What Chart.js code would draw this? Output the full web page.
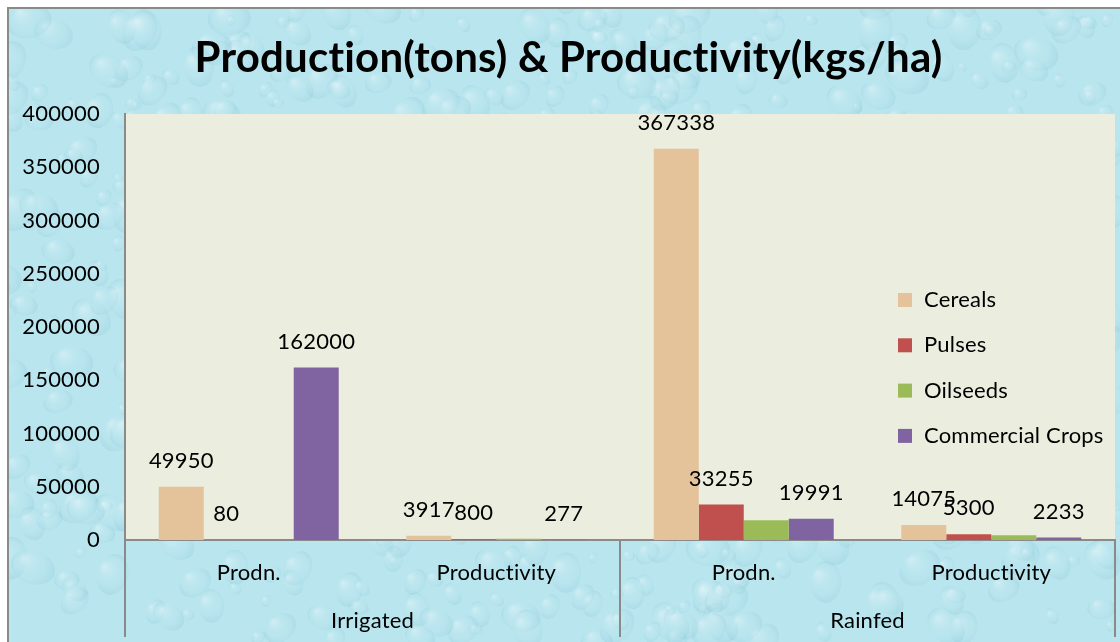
<!DOCTYPE html>
<html>
<head>
<meta charset="utf-8">
<script src="https://cdn.jsdelivr.net/npm/chart.js@4.4.1/dist/chart.umd.min.js"></script>
<style>
  html, body { margin: 0; padding: 0; background: #fff; }
  #wrap { width: 1120px; height: 642px; }
</style>
</head>
<body>
<div id="wrap"><canvas id="chart" width="1120" height="642"></canvas></div>
<script>
// chart data
const groups = ['Irrigated', 'Rainfed'];
const categories = ['Prodn.', 'Productivity', 'Prodn.', 'Productivity'];
const cereals = [49950, 3917, 367338, 14075];
const pulses = [80, 800, 33255, 5300];
const oilseeds = [null, 1200, 18500, 4400];
const commercialCrops = [162000, 277, 19991, 2233];
const yTicks = [0, 50000, 100000, 150000, 200000, 250000, 300000, 350000, 400000];

const FONT = 'Lato';
const GRAY = '#8a8a8a';

// water-drop backdrop, border and plot area fill
const backdrop = {
  id: 'backdrop',
  beforeDraw(chart) {
    const { ctx, width, height, chartArea } = chart;
    ctx.save();
    ctx.fillStyle = '#fff';
    ctx.fillRect(0, 0, width, height);
    ctx.fillStyle = '#b9e5ee';
    ctx.fillRect(8, 8, width - 8, height - 8);
    let seed = 11;
    const rnd = () => (seed = (seed * 16807) % 2147483647) / 2147483647;
    ctx.beginPath();
    ctx.rect(8, 8, width - 8, height - 8);
    ctx.clip();
    for (let i = 0; i < 700; i++) {
      const x = rnd() * width, y = rnd() * height, r = 5 + rnd() * 18;
      const g = ctx.createRadialGradient(x - r * 0.4, y - r * 0.4, r * 0.05, x, y, r);
      g.addColorStop(0, 'rgba(255,255,255,0.30)');
      g.addColorStop(0.6, 'rgba(180,226,236,0.10)');
      g.addColorStop(1, 'rgba(110,180,198,0.18)');
      ctx.fillStyle = g;
      ctx.beginPath();
      ctx.ellipse(x, y, r, r * 0.75, rnd() * Math.PI, 0, Math.PI * 2);
      ctx.fill();
    }
    ctx.restore();

    ctx.save();
    ctx.strokeStyle = GRAY;
    ctx.lineWidth = 2;
    ctx.strokeRect(8, 8, width + 10, height + 10);
    ctx.fillStyle = '#ebeedf';
    ctx.fillRect(chartArea.left, chartArea.top, chartArea.right - chartArea.left, chartArea.bottom - chartArea.top);
    ctx.restore();
    // tiny spacing keeps the "ti" ligature from forming
    ctx.letterSpacing = '0.2px';
  }
};

// value labels above bars (oilseeds had none)
const valueLabels = {
  id: 'valueLabels',
  afterDatasetsDraw(chart) {
    const { ctx } = chart;
    ctx.save();
    ctx.font = `22px ${FONT}`;
    ctx.fillStyle = '#000';
    ctx.textAlign = 'center';
    ctx.textBaseline = 'middle';
    chart.data.datasets.forEach((ds, i) => {
      if (!ds.showValues) return;
      chart.getDatasetMeta(i).data.forEach((bar, j) => {
        const v = ds.data[j];
        if (v === null || v === undefined) return;
        ctx.fillText(String(v), bar.x, bar.y - 26);
      });
    });
    ctx.restore();
  }
};

// group labels, category separators and legend
const extras = {
  id: 'extras',
  afterDraw(chart) {
    const { ctx, chartArea, scales } = chart;
    const x = scales.x;
    const bottom = 637;
    ctx.save();
    ctx.strokeStyle = GRAY;
    ctx.lineWidth = 2;
    const mid = (x.getPixelForValue(1) + x.getPixelForValue(2)) / 2;
    [chartArea.left, mid, chartArea.right].forEach(px => {
      ctx.beginPath();
      ctx.moveTo(px, chartArea.bottom);
      ctx.lineTo(px, bottom);
      ctx.stroke();
    });
    ctx.font = `22px ${FONT}`;
    ctx.fillStyle = '#000';
    ctx.textAlign = 'center';
    ctx.textBaseline = 'middle';
    ctx.fillText(groups[0], (chartArea.left + mid) / 2, 621);
    ctx.fillText(groups[1], (mid + chartArea.right) / 2, 621);

    // legend
    const lx = chartArea.right - 217;
    let ly = chartArea.top + 186;
    ctx.textAlign = 'left';
    chart.data.datasets.forEach(ds => {
      ctx.fillStyle = ds.backgroundColor;
      ctx.fillRect(lx, ly - 7, 14, 14);
      ctx.fillStyle = '#000';
      ctx.fillText(ds.label, lx + 26, ly);
      ly += 45.3;
    });
    ctx.restore();
  }
};

new Chart(document.getElementById('chart'), {
  type: 'bar',
  data: {
    labels: categories,
    datasets: [
      { label: 'Cereals', data: cereals, backgroundColor: '#e4c39b', showValues: true },
      { label: 'Pulses', data: pulses, backgroundColor: '#c0504d', showValues: true },
      { label: 'Oilseeds', data: oilseeds, backgroundColor: '#9bbb59', showValues: false },
      { label: 'Commercial Crops', data: commercialCrops, backgroundColor: '#8064a2', showValues: true }
    ]
  },
  options: {
    responsive: false,
    animation: false,
    layout: { padding: { left: 22, right: 5, top: 0, bottom: 0 } },
    datasets: { bar: { categoryPercentage: 0.727, barPercentage: 1 } },
    plugins: {
      legend: { display: false },
      tooltip: { enabled: false },
      title: {
        display: true,
        text: 'Production(tons) & Productivity(kgs/ha)',
        color: '#000',
        font: { family: FONT, size: 42, weight: 'bold' },
        padding: { top: 33, bottom: 30.6 }
      }
    },
    scales: {
      x: {
        grid: { display: false, drawTicks: false },
        border: { display: true, color: GRAY, width: 2 },
        ticks: { color: '#000', font: { family: FONT, size: 22 }, padding: 20 },
        afterFit: s => { s.height = 102; }
      },
      y: {
        min: yTicks[0],
        max: yTicks[yTicks.length - 1],
        grid: { display: false, drawTicks: false },
        border: { display: true, color: GRAY, width: 2 },
        ticks: {
          stepSize: yTicks[1] - yTicks[0],
          color: '#000',
          font: { family: FONT, size: 22 },
          padding: 25,
          callback: v => String(v)
        },
        afterFit: s => { s.width = 103; }
      }
    }
  },
  plugins: [backdrop, valueLabels, extras]
});
</script>
</body>
</html>
